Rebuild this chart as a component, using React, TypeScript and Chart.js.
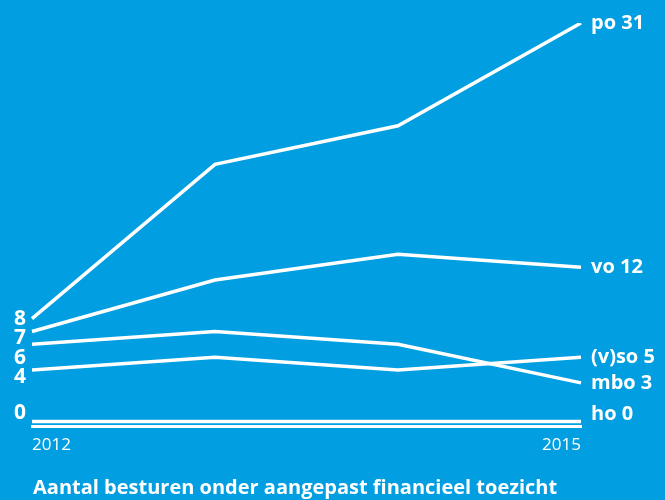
import React, { useEffect, useRef } from 'react';
import { Chart, registerables } from 'chart.js';

Chart.register(...registerables);

const years = ['2012', '2013', '2014', '2015'];
const shownYears = ['2012', '2015'];
const po = [8, 20, 23, 31];
const vo = [7, 11, 13, 12];
const vso = [4, 5, 4, 5];
const mbo = [6, 7, 6, 3];
const ho = [0, 0, 0, 0];
const seriesNames = ['po', 'vo', '(v)so', 'mbo', 'ho'];
const seriesValues = [po, vo, vso, mbo, ho];
const title = 'Aantal besturen onder aangepast financieel toezicht';

const BG = '#019ee1';
const FONT = '"Open Sans", "Noto Sans", sans-serif';

function spread(items: { y: number; text: string }[], gap: number, maxY: number) {
  const arr = items.map((d) => ({ ...d, y: Math.min(d.y, maxY) })).sort((a, b) => a.y - b.y);
  for (let it = 0; it < 200; it++) {
    for (let i = 1; i < arr.length; i++) {
      const d = arr[i].y - arr[i - 1].y;
      if (d < gap) {
        const s = (gap - d) / 2;
        arr[i - 1].y -= s;
        arr[i].y += s;
      }
    }
    for (const a of arr) a.y = Math.min(a.y, maxY);
  }
  return arr;
}

const labelPlugin = {
  id: 'endLabels',
  afterDraw(chart: any) {
    const ctx = chart.ctx;
    const ys = chart.scales.y;
    const area = chart.chartArea;
    const zeroY = ys.getPixelForValue(0);
    const left = seriesValues.map((v) => ({ y: ys.getPixelForValue(v[0]) + 7, text: String(v[0]) }));
    const right = seriesValues.map((v, i) => ({
      y: ys.getPixelForValue(v[v.length - 1]),
      text: seriesNames[i] + ' ' + v[v.length - 1],
    }));
    ctx.save();
    ctx.fillStyle = '#ffffff';
    ctx.textBaseline = 'middle';
    ctx.font = 'bold 21px ' + FONT;
    ctx.textAlign = 'right';
    for (const l of spread(left, 19.5, zeroY - 8)) ctx.fillText(l.text, area.left - 6, l.y);
    ctx.font = 'bold 20px ' + FONT;
    ctx.textAlign = 'left';
    for (const r of spread(right, 22, zeroY - 7)) ctx.fillText(r.text, area.right + 10, r.y);
    ctx.font = 'bold 20px ' + FONT;
    ctx.fillText(title, 33, 488);
    ctx.restore();
  },
};

export default function App() {
  const ref = useRef<HTMLCanvasElement>(null);
  useEffect(() => {
    if (!ref.current) return;
    const chart = new Chart(ref.current, {
      type: 'line',
      data: {
        labels: years,
        datasets: seriesValues.map((v, i) => ({
          label: seriesNames[i],
          data: v,
          borderColor: '#ffffff',
          borderWidth: 3.5,
          pointRadius: 0,
          tension: 0,
          fill: false,
        })),
      },
      options: {
        responsive: false,
        animation: false,
        layout: { padding: { left: 32, right: 84, top: 23, bottom: 37 } },
        plugins: { legend: { display: false }, tooltip: { enabled: false }, title: { display: false } },
        scales: {
          x: {
            grid: { display: false, drawTicks: false },
            border: { display: true, color: '#ffffff', width: 3 },
            ticks: {
              color: '#ffffff',
              font: { family: FONT, size: 17 },
              padding: 8,
              align: 'inner',
              maxRotation: 0,
              autoSkip: false,
              callback: (_v: any, i: number) => (shownYears.includes(years[i]) ? years[i] : ''),
            },
          },
          y: { display: false, min: -0.4, max: 31 },
        },
      },
      plugins: [labelPlugin],
    });
    return () => chart.destroy();
  }, []);
  return (
    <div style={{ position: 'fixed', left: 0, top: 0, width: 665, height: 500, background: BG }}>
      <canvas ref={ref} width={665} height={500} style={{ display: 'block' }} />
    </div>
  );
}
